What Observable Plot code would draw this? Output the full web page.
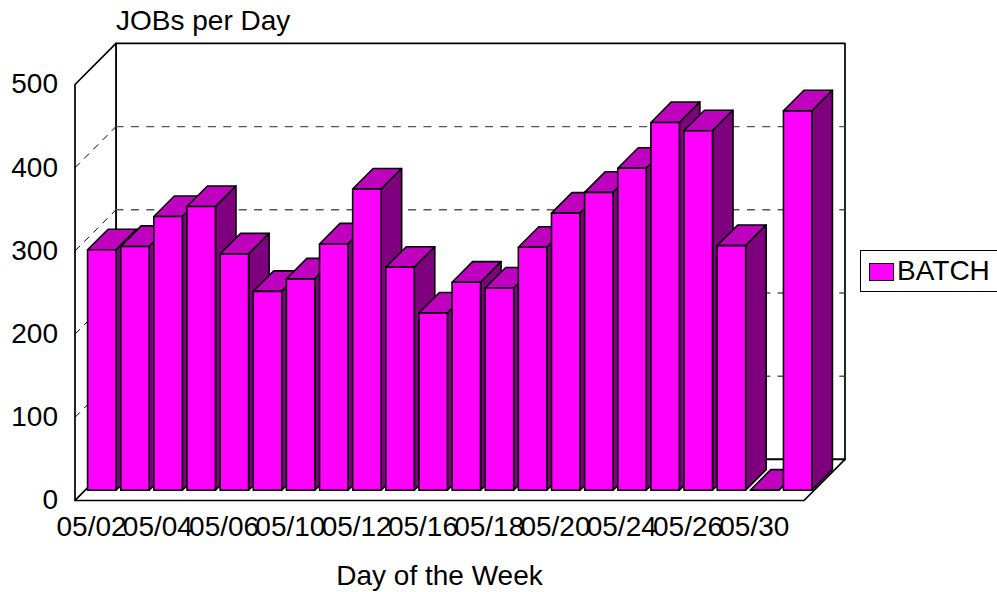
<!DOCTYPE html>
<html>
<head>
<meta charset="utf-8">
<script src="https://cdn.jsdelivr.net/npm/d3@7"></script>
<script src="https://cdn.jsdelivr.net/npm/@observablehq/plot@0.6"></script>
<style>
  html, body { margin: 0; padding: 0; background: #fff; overflow: hidden; }
  body { width: 997px; height: 592px; position: relative; font-family: "Liberation Sans", sans-serif; color: #000; }
  #title { position: absolute; left: 116px; top: 5px; font-size: 28px; line-height: 32px; }
  #legend { position: absolute; left: 860px; top: 250px; width: 150px; height: 40px; border: 1.5px solid #000; background: #fff; font-size: 28px; }
  #legend i { position: absolute; left: 8px; top: 12px; width: 23px; height: 16px; background: #ff00ff; border: 1.5px solid #000; }
  #legend span { position: absolute; left: 36px; top: 4px; line-height: 32px; }
</style>
</head>
<body>
<div id="title">JOBs per Day</div>
<div id="chart"></div>
<div id="legend"><i></i><span>BATCH</span></div>
<script>
const days = ["05/02","05/03","05/04","05/05","05/06","05/09","05/10","05/11","05/12","05/13","05/16",
              "05/17","05/18","05/19","05/20","05/23","05/24","05/25","05/26","05/27","05/30","05/31"];
const jobs = [289,293,329,341,284,239,254,296,362,268,213,250,243,292,333,358,387,442,432,294,0,456];
const yTicks = [0,100,200,300,400,500];
const gridValues = [100,200,300,400];
const xLabel = "Day of the Week";

const wallX = 1.237, wallY = 49.4;      // depth of the box in scale units
const barGap = 0.07, barW = 0.86;
const startD = 0.25, barD = 0.5;
const colors = {front: "#ff00ff", top: "#bf00bf", side: "#7f007f"};

const n = days.length;
const poly = (id, fill, pts) => pts.map(([x, y]) => ({id, fill, x, y}));

// walls
const walls = [
  ...poly("back", "#fff", [[wallX, wallY], [n + wallX, wallY], [n + wallX, 500 + wallY], [wallX, 500 + wallY]]),
  ...poly("left", "#fff", [[0, 0], [wallX, wallY], [wallX, 500 + wallY], [0, 500]]),
  ...poly("floor", "#fff", [[0, 0], [n, 0], [n + wallX, wallY], [wallX, wallY]])
];

// bars, drawn left to right
const dx = wallX * barD, dy = wallY * barD;
const faces = jobs.flatMap((v, i) => {
  const x0 = i + barGap + wallX * startD, x1 = x0 + barW;
  const y0 = wallY * startD, y1 = y0 + v;
  return [
    ...poly(`t${i}`, colors.top, [[x0, y1], [x1, y1], [x1 + dx, y1 + dy], [x0 + dx, y1 + dy]]),
    ...poly(`s${i}`, colors.side, [[x1, y0], [x1 + dx, y0 + dy], [x1 + dx, y1 + dy], [x1, y1]]),
    ...poly(`f${i}`, colors.front, [[x0, y0], [x1, y0], [x1, y1], [x0, y1]])
  ];
});

const chart = Plot.plot({
  width: 997, height: 592,
  marginLeft: 74.5, marginRight: 193.5, marginTop: 84, marginBottom: 92,
  x: {domain: [0, n]},
  y: {domain: [0, 500]},
  color: {type: "identity"},
  style: {fontFamily: "'Liberation Sans', sans-serif", fontSize: "28px", background: "#fff", color: "#000", overflow: "visible"},
  marks: [
    Plot.line(walls, {x: "x", y: "y", z: "id", fill: "fill", stroke: "#000", strokeWidth: 1.7, curve: "linear-closed"}),
    Plot.ruleY(gridValues, {
      x1: wallX, x2: n + wallX, y: d => d + wallY,
      stroke: "#555", strokeWidth: 1.4, strokeDasharray: "8,7.4"
    }),
    Plot.link(gridValues, {
      x1: 0, x2: wallX, y1: d => d, y2: d => d + wallY,
      stroke: "#000", strokeWidth: 1, strokeDasharray: "7,6"
    }),
    Plot.line(faces, {x: "x", y: "y", z: "id", fill: "fill", stroke: "#000", strokeWidth: 1.6, curve: "linear-closed"}),
    Plot.axisY({ticks: yTicks, tickSize: 0, tickPadding: 17, label: null}),
    Plot.axisX({
      ticks: days.map((d, i) => i + 0.5).filter((d, i) => i % 2 === 0),
      tickFormat: d => days[Math.floor(d)],
      tickSize: 0, tickPadding: 16,
      label: xLabel, labelAnchor: "center", labelArrow: "none", labelOffset: 84
    })
  ]
});
document.getElementById("chart").append(chart);
</script>
</body>
</html>
